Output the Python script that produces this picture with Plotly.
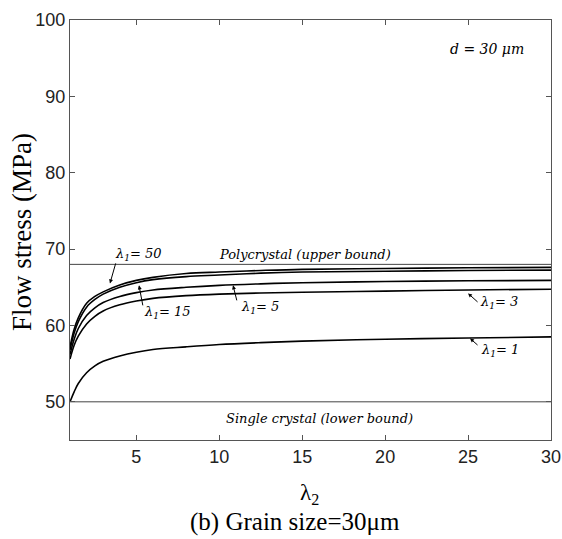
import plotly.graph_objects as go

# ---- data ----
lam2 = [1, 1.25, 1.5, 2, 2.5, 3, 4, 5, 6, 8, 10, 12.5, 15, 20, 25, 30]
stress_l50 = [57.2, 59.5, 61.0, 62.9, 63.8, 64.4, 65.3, 65.9, 66.3, 66.8, 67.0, 67.2, 67.35, 67.45, 67.55, 67.6]
stress_l15 = [56.8, 59.0, 60.5, 62.4, 63.4, 64.1, 65.0, 65.6, 66.0, 66.4, 66.6, 66.85, 67.0, 67.1, 67.2, 67.25]
stress_l5 = [56.2, 58.2, 59.6, 61.3, 62.3, 63.0, 63.8, 64.3, 64.65, 65.0, 65.25, 65.45, 65.6, 65.75, 65.85, 65.9]
stress_l3 = [55.6, 57.4, 58.6, 60.2, 61.2, 61.9, 62.7, 63.2, 63.55, 63.9, 64.1, 64.25, 64.35, 64.5, 64.65, 64.75]
stress_l1 = [50.0, 51.3, 52.4, 53.8, 54.7, 55.3, 56.0, 56.5, 56.85, 57.2, 57.5, 57.75, 57.95, 58.2, 58.35, 58.5]

bound_x = [1, 30]
upper_bound = [68, 68]
lower_bound = [50, 50]

x_ticks = [5, 10, 15, 20, 25, 30]
y_ticks = [50, 60, 70, 80, 90, 100]

series = [stress_l50, stress_l15, stress_l5, stress_l3, stress_l1]

fig = go.Figure()
for s in series:
    fig.add_trace(go.Scatter(x=lam2, y=s, mode="lines", line=dict(color="black", width=1.6, shape="spline"),
                             showlegend=False, hoverinfo="skip"))
fig.add_trace(go.Scatter(x=bound_x, y=upper_bound, mode="lines", line=dict(color="#444", width=1), showlegend=False))
fig.add_trace(go.Scatter(x=bound_x, y=lower_bound, mode="lines", line=dict(color="#444", width=1), showlegend=False))

lab_font = dict(family="DejaVu Serif", size=13, color="black")

# labels (text position in data coords)
labels = [
    ("<i>λ<sub>1</sub>= 50</i>", 5.10, 69.31),
    ("<i>λ<sub>1</sub>= 15</i>", 6.85, 61.68),
    ("<i>λ<sub>1</sub>= 5</i>", 12.46, 62.34),
    ("<i>λ<sub>1</sub>= 3</i>", 26.87, 62.99),
    ("<i>λ<sub>1</sub>= 1</i>", 26.93, 56.71),
    ("<i>Polycrystal (upper bound)</i>", 15.17, 69.31),
    ("<i>Single crystal (lower bound)</i>", 16.07, 47.84),
]
for t, x, y in labels:
    fig.add_annotation(x=x, y=y, text=t, showarrow=False, font=lab_font, xanchor="center", yanchor="middle")

fig.add_annotation(x=26.14, y=96.14, text="<i>d = 30 μm</i>", showarrow=False,
                   font=dict(family="DejaVu Serif", size=14, color="black"))

# arrows: head (data), tail offset (px)
arrows = [
    (3.41, 65.51, 6, -21),
    (5.16, 65.25, 4, 21),
    (10.83, 65.25, 4, 16),
    (25.0, 64.2, 10, 9),
    (25.12, 58.3, 8, 7),
]
for x, y, ax, ay in arrows:
    fig.add_annotation(x=x, y=y, ax=ax, ay=ay, text=" ", showarrow=True, arrowhead=2, arrowsize=0.8,
                       arrowwidth=1, arrowcolor="black", font=dict(size=1), borderpad=0, standoff=0)

fig.add_annotation(xref="paper", yref="paper", x=-0.0998, y=0.495, text="Flow stress (MPa)", textangle=-90,
                   showarrow=False, font=dict(family="Liberation Serif", size=27, color="black"),
                   xanchor="center", yanchor="middle")
fig.add_annotation(xref="paper", yref="paper", x=0.497, y=-0.128, text="λ<sub>2</sub>",
                   showarrow=False, font=dict(family="Liberation Serif", size=23, color="black"),
                   xanchor="center", yanchor="middle")
fig.add_annotation(xref="paper", yref="paper", x=0.468, y=-0.196, text="(b) Grain size=30μm",
                   showarrow=False, font=dict(family="Liberation Serif", size=25, color="black"),
                   xanchor="center", yanchor="middle")

axis_common = dict(showgrid=False, zeroline=False, showline=True, linecolor="#555", linewidth=1,
                   mirror="ticks", ticks="inside", ticklen=5, tickcolor="#555", automargin=False,
                   tickfont=dict(family="Liberation Sans", size=18, color="#222"))
fig.update_xaxes(range=[1, 30], tickvals=x_ticks, **axis_common)
fig.update_yaxes(range=[45, 100], tickvals=y_ticks, **axis_common)

fig.update_layout(width=562, height=539, margin=dict(l=70, r=11, t=20, b=99),
                  plot_bgcolor="white", paper_bgcolor="white")

fig.write_html("out.html")
